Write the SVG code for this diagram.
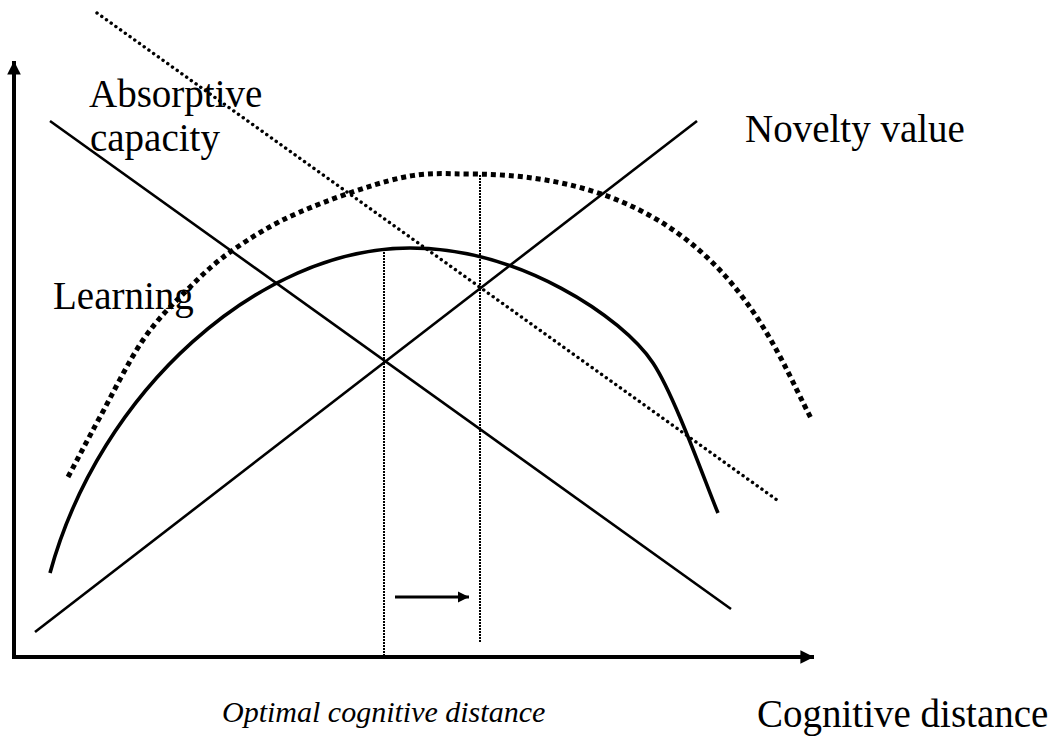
<svg xmlns="http://www.w3.org/2000/svg" width="1060" height="740" viewBox="0 0 1060 740">
<style>
text{font-family:"Liberation Serif","Times New Roman",serif;fill:#000}
.lbl{font-size:39px}
.ital{font-size:30px;font-style:italic}
.ln{fill:none;stroke:#000;stroke-width:2.6}
.curve{fill:none;stroke:#000;stroke-width:3.6}
.thick-dot{fill:none;stroke:#000;stroke-width:5;stroke-dasharray:5 4}
.thin-dot{fill:none;stroke:#000;stroke-width:3.4;stroke-linecap:round;stroke-dasharray:0.1 5.7}
.vdot{fill:none;stroke:#000;stroke-width:2;stroke-dasharray:2 1}
.axis{fill:none;stroke:#000;stroke-width:4}
</style>
<defs>
<marker id="ah" viewBox="0 0 10 10" refX="10" refY="5" markerWidth="3.4" markerHeight="3.4" markerUnits="strokeWidth" orient="auto">
<path d="M0,0 L10,5 L0,10 Z" fill="#000"/>
</marker>
<marker id="ahs" viewBox="0 0 10 10" refX="10" refY="5" markerWidth="3.8" markerHeight="3.8" markerUnits="strokeWidth" orient="auto">
<path d="M0,0 L10,5 L0,10 Z" fill="#000"/>
</marker>
</defs>
<rect width="1060" height="740" fill="#fff"/>
<g id="connectors">
<line id="y-axis" class="axis" x1="14" y1="659" x2="14" y2="61" marker-end="url(#ah)"/>
<line id="x-axis" class="axis" x1="12" y1="657" x2="814" y2="657" marker-end="url(#ah)"/>
<line id="absorptive-line" class="ln" x1="50" y1="121" x2="731" y2="609"/>
<line id="novelty-line" class="ln" x1="35" y1="632" x2="697" y2="121"/>
<line id="shift-line" class="thin-dot" x1="97" y1="13" x2="777" y2="500"/>
<path id="learning-curve" class="curve" d="M50,573 C100,390 260,248 410,248 C520,248 622.5,317.2 653,363 C675.2,396.3 708,490 718,513"/>
<path id="learning-curve-shifted" class="thick-dot" d="M68,477 C78.7,457 87.5,439.8 100,417 C112.5,394.2 128.5,361.2 143,340 C157.5,318.8 172,305 187,290 C202,275 214.2,263 233,250 C251.8,237 272.2,224 300,212 C327.8,200 371.7,184.3 400,178 C428.3,171.7 445,174 470,174 C720,174 773.6,349.8 812,420"/>
<line id="optimal-1" class="vdot" x1="384" y1="249" x2="384" y2="656"/>
<line id="optimal-2" class="vdot" x1="480" y1="175" x2="480" y2="643"/>
<line id="shift-arrow" fill="none" stroke="#000" stroke-width="3" x1="395" y1="597" x2="469" y2="597" marker-end="url(#ahs)"/>
</g>
<g id="label-absorptive">
<text class="lbl" x="89" y="107">Absorptive</text>
<text class="lbl" x="90" y="151">capacity</text>
</g>
<g id="label-novelty"><text class="lbl" x="745" y="142">Novelty value</text></g>
<g id="label-learning"><text class="lbl" x="53" y="309">Learning</text></g>
<g id="label-optimal"><text class="ital" x="222" y="722">Optimal cognitive distance</text></g>
<g id="label-cognitive"><text class="lbl" x="757" y="727">Cognitive distance</text></g>
</svg>
